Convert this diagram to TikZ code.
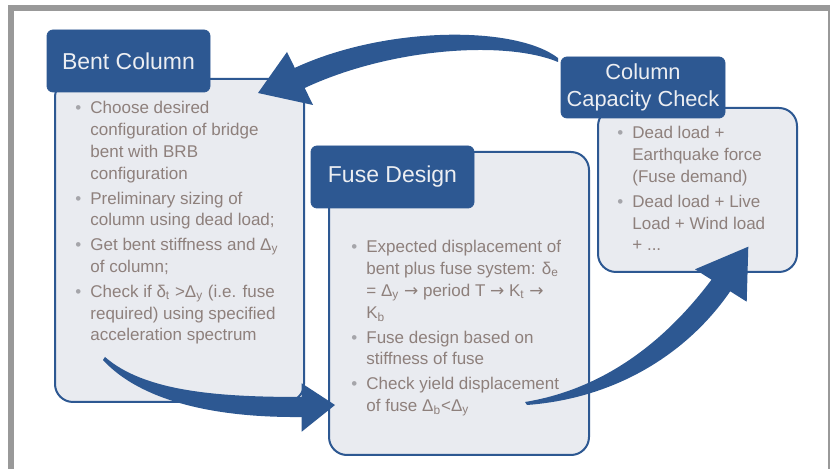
\documentclass[tikz,border=0pt]{standalone}
\usepackage{fontspec}
\setmainfont{Liberation Sans}
\newfontfamily\arrowfont{DejaVu Sans}
\definecolor{slate}{RGB}{45,88,146}
\definecolor{paper}{RGB}{233,235,240}
\definecolor{inkb}{RGB}{142,128,124}
\definecolor{dotc}{RGB}{165,165,170}
\definecolor{framec}{RGB}{153,153,153}
\definecolor{tabtext}{RGB}{236,238,242}

\newcommand\bul{\makebox[7.5pt][l]{\color{dotc}\textbullet}}
\newcommand\ind{\hspace*{7.5pt}}
\newcommand\goes{{\arrowfont →}}

\begin{document}
\begin{tikzpicture}[x=0.5pt, y=-0.5pt,
    body/.style={draw=slate, line width=1pt, fill=paper, rounded corners=9pt,
                 inner sep=0pt},
    tab/.style={fill=slate, draw=slate, rounded corners=3pt, inner sep=0pt,
                minimum width=81.5pt, minimum height=31pt, text=tabtext,
                font=\fontsize{11.5}{13.5}\selectfont, align=center},
    txt/.style={anchor=base west, inner sep=0pt, text=inkb,
                font=\fontsize{8.5}{10.85}\selectfont},
    flow/.style={fill=slate}]
  \useasboundingbox (0,0) rectangle (830,469);

  % ---------- frame ----------------------------------------------------------
  \fill[framec] (8,5) rectangle (14,469);
  \fill[framec] (8,5) rectangle (830,11);
  \fill[framec] (828,5) rectangle (830,469);

  % ---------- bent column ----------------------------------------------------
  \node[body, minimum width=124.5pt, minimum height=161.5pt] (bentBody) at (179.5,240.5) {};
  \node[tab] (bentTab) at (128.5,61) {Bent Column};
  \node[txt] (bentList) at (75,114) {\begin{tabular}[t]{@{}l@{}}
    \bul Choose desired\\
    \ind configuration of bridge\\
    \ind bent with BRB\\
    \ind configuration\\[1.65pt]
    \bul Preliminary sizing of\\
    \ind column using dead load;\\[1.65pt]
    \bul Get bent stiffness and Δ\textsubscript{y}\\
    \ind of column;\\[1.65pt]
    \bul Check if δ\textsubscript{t} >Δ\textsubscript{y} (i.e. fuse\\
    \ind required) using specified\\
    \ind acceleration spectrum
  \end{tabular}};

  % ---------- fuse design ----------------------------------------------------
  \node[body, minimum width=130pt, minimum height=151.5pt] (fuseBody) at (459,303.5) {};
  \node[tab] (fuseTab) at (392.5,177) {Fuse Design};
  \node[txt] (fuseList) at (351,253) {\begin{tabular}[t]{@{}l@{}}
    \bul Expected displacement of\\
    \ind bent plus fuse system: δ\textsubscript{e}\\
    \ind = Δ\textsubscript{y} \goes{} period T \goes{} K\textsubscript{t} \goes\\
    \ind K\textsubscript{b}\\[1.65pt]
    \bul Fuse design based on\\
    \ind stiffness of fuse\\[1.65pt]
    \bul Check yield displacement\\
    \ind of fuse Δ\textsubscript{b}<Δ\textsubscript{y}
  \end{tabular}};

  % ---------- column capacity check ------------------------------------------
  \node[body, minimum width=99.5pt, minimum height=82pt] (capBody) at (697.5,190) {};
  \node[tab, minimum width=82pt, minimum height=30.5pt,
        font=\fontsize{10.9}{13.5}\selectfont] (capTab) at (643,87.5)
    {Column\\Capacity Check};
  \node[txt] (capList) at (617,139) {\begin{tabular}[t]{@{}l@{}}
    \bul Dead load +\\
    \ind Earthquake force\\
    \ind (Fuse demand)\\[1.65pt]
    \bul Dead load + Live\\
    \ind Load + Wind load\\
    \ind + ...
  \end{tabular}};

  % ---------- cycle arrows ---------------------------------------------------
  \coordinate (backTail) at (558,60);
  \coordinate (backTip)  at (258,93);
  \fill[flow] (558,58) .. controls (515,25) and (385,26) .. (294.8,67.9)
    -- (287,52) -- (backTip) -- (313,105) -- (304.7,88)
    .. controls (390,48) and (505,40) .. (558,62) -- cycle;

  \coordinate (downTail) at (104,358);
  \coordinate (downTip)  at (335,405);
  \fill[flow] (105,357) .. controls (145,392) and (220,397) .. (301.7,397)
    -- (301.7,383.3) -- (downTip) -- (301.7,431.7) -- (301.7,417)
    .. controls (200,418) and (135,395) .. (103,360) -- cycle;

  \coordinate (upTail) at (525,403);
  \coordinate (upTip)  at (748.3,246.7);
  \fill[flow] (525,402) .. controls (610,388) and (670,335) .. (711.5,279.7)
    -- (695,269.3) -- (upTip) -- (746.7,301.7) -- (730.2,291.3)
    .. controls (690,350) and (620,398) .. (527,405) -- cycle;
\end{tikzpicture}
\end{document}
